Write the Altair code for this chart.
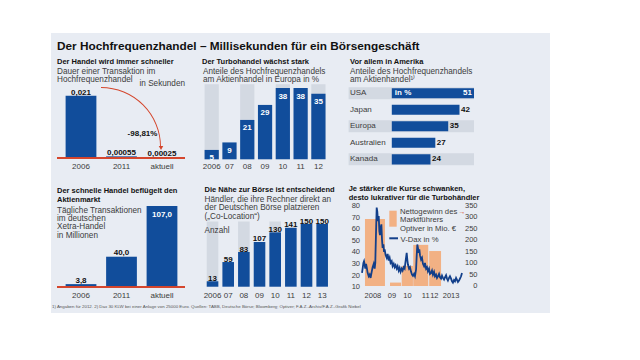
import altair as alt
import pandas as pd

FONT = "Liberation Sans, Arial, sans-serif"
BLUE = "#114d9b"
LIGHT = "#d3d9e2"
PANEL = "#e8ecf3"
RED = "#d4452b"
ORANGE = "#f2b184"
LINE = "#123f8a"
DARK = "#111111"
GREY = "#3c3c3c"

H_SIZE = 7.5     # panel headings (bold)
S_SIZE = 8.2     # panel subtitles
T_SIZE = 8       # tick / category labels
V_SIZE = 8       # value labels

# ---------------- data ----------------
speed_cat = ["2006", "2011", "aktuell"]
speed_val = [0.021, 0.00055, 0.00025]
speed_lbl = ["0,021", "0,00055", "0,00025"]

share_year = ["2006", "07", "08", "09", "10", "11", "12"]
share_val = [5, 9, 21, 29, 38, 38, 35]
share_bg_year = ["2006", "08", "10", "12"]
share_bg_val = [40, 40, 40, 40]

country = ["USA", "Japan", "Europa", "Australien", "Kanada"]
country_val = [51, 42, 35, 27, 24]
zebra_country = ["USA", "Europa", "Kanada"]

xetra_cat = ["2006", "2011", "aktuell"]
xetra_val = [3.8, 40.0, 107.0]
xetra_lbl = ["3,8", "40,0", "107,0"]

coloc_year = ["2006", "07", "08", "09", "10", "11", "12", "13"]
coloc_val = [13, 59, 83, 107, 130, 141, 150, 150]
coloc_bg_year = ["2006", "08", "10", "12"]
coloc_bg_val = [156, 156, 156, 156]

vdax_t = [2007.50, 2007.54, 2007.59, 2007.63, 2007.67, 2007.71, 2007.76, 2007.80, 2007.86, 2007.93,
          2007.99, 2008.05, 2008.12, 2008.18, 2008.25, 2008.31, 2008.35, 2008.40, 2008.44, 2008.48,
          2008.52, 2008.57, 2008.61, 2008.65, 2008.69, 2008.74, 2008.78, 2008.82, 2008.87, 2008.91,
          2008.95, 2009.01, 2009.08, 2009.14, 2009.21, 2009.27, 2009.33, 2009.40, 2009.46, 2009.53,
          2009.59, 2009.65, 2009.72, 2009.78, 2009.85, 2009.91, 2009.97, 2010.04, 2010.10, 2010.17,
          2010.23, 2010.29, 2010.36, 2010.40, 2010.44, 2010.51, 2010.57, 2010.64, 2010.70, 2010.76,
          2010.83, 2010.89, 2010.96, 2011.00, 2011.04, 2011.08, 2011.13, 2011.17, 2011.21, 2011.28,
          2011.34, 2011.40, 2011.47, 2011.53, 2011.60, 2011.66, 2011.72, 2011.79, 2011.85, 2011.92,
          2011.98, 2012.04, 2012.11, 2012.17, 2012.24, 2012.30, 2012.36, 2012.43, 2012.49, 2012.56,
          2012.62, 2012.68, 2012.75, 2012.81, 2012.88, 2012.94, 2013.00, 2013.07, 2013.13, 2013.20,
          2013.26, 2013.32, 2013.39, 2013.45, 2013.52, 2013.58, 2013.64, 2013.71, 2013.77, 2013.84,
          2013.90]
vdax_v = [22.4, 26.1, 31.0, 32.5, 29.6, 26.1, 30.2, 27.3, 22.4, 19.5,
          20.9, 18.1, 23.3, 27.3, 30.2, 26.1, 31.0, 58.4, 78.6, 75.1,
          67.0, 71.4, 58.4, 54.9, 61.3, 64.2, 51.2, 44.0, 46.9, 40.5,
          42.6, 37.7, 35.4, 38.8, 33.0, 35.4, 31.0, 32.5, 28.2, 30.2,
          27.3, 29.0, 26.1, 28.2, 24.4, 26.7, 23.3, 26.1, 24.4, 27.3,
          26.1, 32.5, 39.7, 33.9, 29.6, 26.1, 27.3, 23.3, 20.9, 19.8,
          21.5, 19.5, 25.3, 36.8, 46.9, 44.0, 39.7, 42.6, 37.7, 33.9,
          35.4, 30.2, 28.2, 31.0, 26.1, 27.3, 23.8, 26.1, 21.5, 22.4,
          24.4, 20.9, 23.3, 19.5, 20.9, 18.1, 19.5, 21.5, 18.6, 17.5,
          20.1, 18.1, 16.6, 18.6, 20.4, 17.5, 15.8, 18.1, 19.5, 17.5,
          15.2, 14.0, 16.3, 15.2, 18.1, 16.3, 14.6, 15.8, 17.5, 19.5,
          22.4]

opt_start = [2007.69, 2009.29, 2010.04, 2010.78, 2011.80]
opt_end = [2008.97, 2010.00, 2010.76, 2011.74, 2012.56]
opt_val = [293, 15, 88, 180, 153]

vdax_ticks = [10, 20, 30, 40, 50, 60, 70, 80]
opt_ticks = [0, 50, 100, 150, 200, 250, 300, 350]
year_lbl = ["2008", "09", "10", "11", "12", "2013"]
year_pos = [2008.2, 2009.42, 2010.41, 2011.58, 2012.13, 2013.2]

layers = []


def txt(s, x, y, size=S_SIZE, weight="normal", color=GREY, align="left", baseline="alphabetic"):
    layers.append(
        alt.Chart(pd.DataFrame({"s": [s]}))
        .mark_text(font=FONT, fontSize=size, fontWeight=weight, color=color,
                   align=align, baseline=baseline)
        .encode(x=alt.value(x), y=alt.value(y), text="s:N")
    )


def tf(size=T_SIZE, weight="normal", color=GREY, **kw):
    return dict(font=FONT, fontSize=size, fontWeight=weight, color=color, **kw)


# ---------------- title ----------------
txt("Der Hochfrequenzhandel – Millisekunden für ein Börsengeschäft", 6, 17, size=11.8,
    weight="bold", color=DARK)

# ---------------- panel 1 ----------------
d1 = pd.DataFrame({"c": speed_cat, "v": speed_val, "l": speed_lbl})
x1 = alt.X("c:N", axis=None, scale=alt.Scale(domain=speed_cat, range=[9.75, 131.25],
                                             paddingInner=0.24, paddingOuter=0.12))
y1 = alt.Y("v:Q", axis=None, scale=alt.Scale(domain=[0, 0.021], range=[125, 62.7]))
txt("Der Handel wird immer schneller", 6, 31, size=H_SIZE, weight="bold", color=DARK)
txt("Dauer einer Transaktion im", 6, 40.5)
txt("Hochfrequenzhandel", 6, 49)
txt("in Sekunden", 88.5, 53)
layers.append(alt.Chart(d1).mark_bar(color=BLUE).encode(x=x1, y=y1))
layers.append(alt.Chart(d1).mark_text(**tf(V_SIZE, "bold", DARK, dy=-3)).encode(x=x1, y=y1, text="l:N"))
layers.append(alt.Chart(d1).mark_text(**tf()).encode(x=x1, y=alt.value(133.7), text="c:N"))
layers.append(alt.Chart(d1).mark_rule(color=RED, strokeWidth=1.5)
              .encode(x=alt.value(6), x2=alt.value(134), y=alt.value(125)))
layers.append(alt.Chart(pd.DataFrame({"a": [0]}))
              .mark_arc(theta=0, theta2=1.5708, radius=60, radius2=59.1, color=RED)
              .encode(x=alt.value(50), y=alt.value(114)))
layers.append(alt.Chart(pd.DataFrame({"a": [0]}))
              .mark_point(shape="triangle-down", filled=True, size=20, color=RED, opacity=1)
              .encode(x=alt.value(110), y=alt.value(115)))
txt("-98,81%", 91.5, 103, size=V_SIZE, weight="bold", color=DARK, align="center")

# ---------------- panel 2 ----------------
x2s = alt.Scale(domain=share_year, range=[151.8, 276.3], paddingInner=0.2, paddingOuter=0.1)
y2s = alt.Scale(domain=[0, 40], range=[126.3, 51.3])
d2 = pd.DataFrame({"c": share_year, "v": share_val})
d2b = pd.DataFrame({"c": share_bg_year, "v": share_bg_val})
txt("Der Turbohandel wächst stark", 151, 31, size=H_SIZE, weight="bold", color=DARK)
txt("Anteile des Hochfrequenzhandels", 152, 40.5)
txt("am Aktienhandel in Europa in %", 152, 49)
layers.append(alt.Chart(d2b).mark_bar(color=LIGHT).encode(
    x=alt.X("c:N", axis=None, scale=x2s), y=alt.Y("v:Q", axis=None, scale=y2s)))
layers.append(alt.Chart(d2).mark_bar(color=BLUE).encode(
    x=alt.X("c:N", axis=None, scale=x2s), y=alt.Y("v:Q", axis=None, scale=y2s)))
layers.append(alt.Chart(d2).mark_text(**tf(V_SIZE, "bold", "white", dy=8.5)).encode(
    x=alt.X("c:N", axis=None, scale=x2s), y=alt.Y("v:Q", axis=None, scale=y2s), text="v:Q"))
layers.append(alt.Chart(d2).mark_text(**tf()).encode(
    x=alt.X("c:N", axis=None, scale=x2s), y=alt.value(133.7), text="c:N"))

# ---------------- panel 3 ----------------
d3 = pd.DataFrame({"c": country, "v": country_val})
d3z = pd.DataFrame({"c": zebra_country})
y3bar = alt.Scale(domain=country, range=[52, 134.6], paddingInner=0.39, paddingOuter=0.195)
y3zeb = alt.Scale(domain=country, range=[52, 134.6], paddingInner=0.27, paddingOuter=0.135)
x3 = alt.Scale(domain=[0, 51], range=[340.8, 423])
txt("Vor allem in Amerika", 299, 31, size=H_SIZE, weight="bold", color=DARK)
txt("Anteile des Hochfrequenzhandels", 299, 40.5)
txt("am Aktienhandel¹⁾", 299, 49)
layers.append(alt.Chart(d3z).mark_rect(color=LIGHT).encode(
    y=alt.Y("c:N", axis=None, scale=y3zeb), x=alt.value(297.6), x2=alt.value(423)))
layers.append(alt.Chart(d3).mark_bar(color=BLUE).encode(
    y=alt.Y("c:N", axis=None, scale=y3bar), x=alt.X("v:Q", axis=None, scale=x3)))
layers.append(alt.Chart(d3).mark_text(**tf(baseline="middle", align="left")).encode(
    y=alt.Y("c:N", axis=None, scale=y3bar), x=alt.value(299), text="c:N"))
layers.append(alt.Chart(d3).transform_filter("datum.v < 51").mark_text(
    **tf(V_SIZE, "bold", DARK, baseline="middle", align="left", dx=1.5)).encode(
    y=alt.Y("c:N", axis=None, scale=y3bar), x=alt.X("v:Q", axis=None, scale=x3), text="v:Q"))
layers.append(alt.Chart(d3).transform_filter("datum.v >= 51").mark_text(
    **tf(V_SIZE, "bold", "white", baseline="middle", align="right", dx=-2)).encode(
    y=alt.Y("c:N", axis=None, scale=y3bar), x=alt.X("v:Q", axis=None, scale=x3), text="v:Q"))
layers.append(alt.Chart(d3).transform_filter("datum.v >= 51").mark_text(
    **tf(V_SIZE, "bold", "white", baseline="middle", align="left", dx=3)).encode(
    y=alt.Y("c:N", axis=None, scale=y3bar), x=alt.XDatum(0, axis=None, scale=x3),
    text=alt.value("in %")))

# ---------------- panel 4 ----------------
d4 = pd.DataFrame({"c": xetra_cat, "v": xetra_val, "l": xetra_lbl})
x4 = alt.X("c:N", axis=None, scale=alt.Scale(domain=xetra_cat, range=[9.75, 131.25],
                                             paddingInner=0.24, paddingOuter=0.12))
y4 = alt.Y("v:Q", axis=None, scale=alt.Scale(domain=[0, 107], range=[254, 173]))
txt("Der schnelle Handel beflügelt den", 6, 159.5, size=H_SIZE, weight="bold", color=DARK)
txt("Aktienmarkt", 6, 168.5, size=H_SIZE, weight="bold", color=DARK)
txt("Tägliche Transaktionen", 6, 179.5)
txt("im deutschen", 6, 187.9)
txt("Xetra-Handel", 6, 196.3)
txt("in Millionen", 6, 204.7)
layers.append(alt.Chart(d4).mark_bar(color=BLUE).encode(x=x4, y=y4))
layers.append(alt.Chart(d4).transform_filter("datum.v < 100").mark_text(
    **tf(V_SIZE, "bold", DARK, dy=-3.5)).encode(x=x4, y=y4, text="l:N"))
layers.append(alt.Chart(d4).transform_filter("datum.v >= 100").mark_text(
    **tf(V_SIZE, "bold", "white", dy=9)).encode(x=x4, y=y4, text="l:N"))
layers.append(alt.Chart(d4).mark_text(**tf()).encode(x=x4, y=alt.value(263), text="c:N"))
layers.append(alt.Chart(d4).mark_rule(color=RED, strokeWidth=1.5)
              .encode(x=alt.value(6), x2=alt.value(134), y=alt.value(254)))

# ---------------- panel 5 ----------------
x5 = alt.Scale(domain=coloc_year, range=[153.7, 279], paddingInner=0.26, paddingOuter=0.13)
y5 = alt.Scale(domain=[0, 150], range=[253.7, 191])
d5 = pd.DataFrame({"c": coloc_year, "v": coloc_val})
d5b = pd.DataFrame({"c": coloc_bg_year, "v": coloc_bg_val})
txt("Die Nähe zur Börse ist entscheidend", 153.6, 159, size=H_SIZE, weight="bold", color=DARK)
txt("Händler, die ihre Rechner direkt an", 153.6, 168.5)
txt("der Deutschen Börse platzieren", 153.6, 177)
txt("(„Co-Location“)", 153.6, 185.5)
layers.append(alt.Chart(d5b).mark_bar(color=LIGHT).encode(
    x=alt.X("c:N", axis=None, scale=x5), y=alt.Y("v:Q", axis=None, scale=y5)))
txt("Anzahl", 153.6, 199.8)
layers.append(alt.Chart(d5).mark_bar(color=BLUE).encode(
    x=alt.X("c:N", axis=None, scale=x5), y=alt.Y("v:Q", axis=None, scale=y5)))
layers.append(alt.Chart(d5).mark_text(**tf(V_SIZE, "bold", DARK, dy=-2.5)).encode(
    x=alt.X("c:N", axis=None, scale=x5), y=alt.Y("v:Q", axis=None, scale=y5), text="v:Q"))
layers.append(alt.Chart(d5).mark_text(**tf()).encode(
    x=alt.X("c:N", axis=None, scale=x5), y=alt.value(263), text="c:N"))

# ---------------- panel 6 ----------------
x6 = alt.Scale(domain=[2007.5, 2013.9], range=[311, 411])
yL = alt.Scale(domain=[10, 80], range=[254.3, 173])
yR = alt.Scale(domain=[0, 350], range=[253, 173])
d6o = pd.DataFrame({"s": opt_start, "e": opt_end, "v": opt_val})
d6v = pd.DataFrame({"t": vdax_t, "v": vdax_v})
txt("Je stärker die Kurse schwanken,", 297.7, 158.2, size=H_SIZE, weight="bold", color=DARK)
txt("desto lukrativer für die Turbohändler", 297.7, 167.2, size=H_SIZE, weight="bold", color=DARK)
layers.append(alt.Chart(d6o).mark_rect(color=ORANGE).encode(
    x=alt.X("s:Q", axis=None, scale=x6), x2="e:Q",
    y=alt.Y("v:Q", axis=None, scale=yR), y2=alt.datum(0)))
# legend
layers.append(alt.Chart(pd.DataFrame({"a": [0]})).mark_rect(color=ORANGE).encode(
    x=alt.value(338.3), x2=alt.value(345.7), y=alt.value(177.7), y2=alt.value(193.7)))
txt("Nettogewinn des", 349, 180.5, size=7.7)
txt("Marktführers", 349, 189.3, size=7.7)
txt("Optiver in Mio. €", 349, 198, size=7.7)
txt("→", 407.5, 181, size=7, color=RED)
layers.append(alt.Chart(d6v).mark_line(color=LINE, strokeWidth=1.8).encode(
    x=alt.X("t:Q", axis=None, scale=x6), y=alt.Y("v:Q", axis=None, scale=yL)))
layers.append(alt.Chart(pd.DataFrame({"a": [0]})).mark_rule(color=LINE, strokeWidth=2).encode(
    x=alt.value(338.3), x2=alt.value(347), y=alt.value(205.3)))
txt("V-Dax in %", 349.5, 208.8, size=7.7)
layers.append(alt.Chart(pd.DataFrame({"v": vdax_ticks})).mark_text(
    **tf(7.5, align="right", baseline="middle")).encode(
    x=alt.value(309), y=alt.Y("v:Q", axis=None, scale=yL), text="v:Q"))
layers.append(alt.Chart(pd.DataFrame({"v": opt_ticks})).mark_text(
    **tf(7.5, align="right", baseline="middle")).encode(
    x=alt.value(426.5), y=alt.Y("v:Q", axis=None, scale=yR), text="v:Q"))
layers.append(alt.Chart(pd.DataFrame({"p": year_pos, "l": year_lbl})).mark_text(
    **tf(7.5)).encode(x=alt.X("p:Q", axis=None, scale=x6), y=alt.value(263), text="l:N"))

# ---------------- footnote ----------------
txt("1) Angaben für 2012. 2) Dax 30 KLW bei einer Anlage von 25000 Euro. Quellen: TABB, "
    "Deutsche Börse; Bloomberg; Optiver; F.A.Z.-Archiv/F.A.Z.-Grafik Niebel",
    1, 274.5, size=4.4, color="#555555")

chart = (
    alt.layer(*layers)
    .resolve_scale(x="independent", y="independent")
    .properties(width=499, height=280,
                padding={"left": 43, "top": 25, "right": 0, "bottom": 0},
                autosize=alt.AutoSizeParams(type="none"),
                background="white")
    .configure_view(fill=PANEL, stroke=None)
)

chart.save("out.html", embed_options={"renderer": "svg", "actions": False})
